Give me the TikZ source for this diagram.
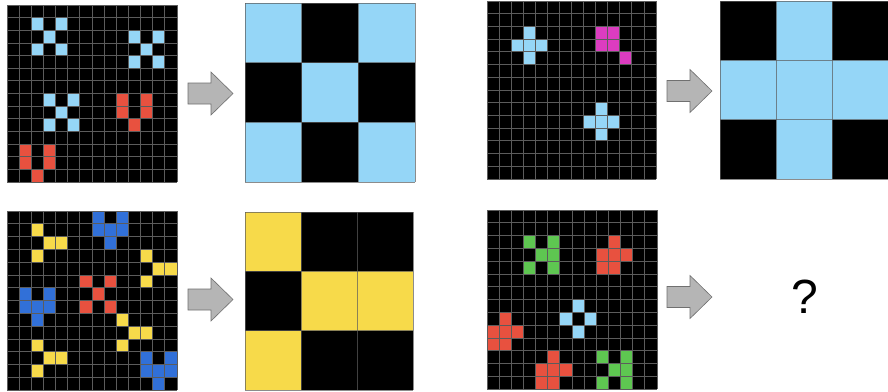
\documentclass[tikz,border=0pt]{standalone}
\usepackage{fontspec}
\setmainfont{Liberation Sans}
\usetikzlibrary{positioning}
\definecolor{cellsky}{HTML}{95D6F7}
\definecolor{cellred}{HTML}{E8513F}
\definecolor{cellyel}{HTML}{F7DA4A}
\definecolor{cellblue}{HTML}{3170D8}
\definecolor{cellgrn}{HTML}{5EC651}
\definecolor{cellmag}{HTML}{DC3CC0}
\definecolor{gridcol}{HTML}{5C5C5C}
\definecolor{arrfill}{HTML}{B5B5B5}
\definecolor{arrdraw}{HTML}{707070}

\begin{document}
\begin{tikzpicture}[
  x=1pt,y=-1pt,
  gridln/.style={draw=gridcol,line width=0.7pt},
  outln/.style={draw=gridcol,line width=0.6pt,opacity=0.7},
  blockarr/.style={fill=arrfill,draw=arrdraw,line width=0.6pt,line join=miter},
]
\fill[white] (0,0) rectangle (888,391);
\useasboundingbox (0,0) rectangle (888,391);

%================================================================ TOP LEFT ===
\begin{scope}[shift={(7,5)},x=12.14pt,y=-12.64pt]
  \fill[black] (0,0) rectangle (14,14);
  \foreach \r/\c in {1/2,1/4,2/3,3/2,3/4, 2/10,2/12,3/11,4/10,4/12, 7/3,7/5,8/4,9/3,9/5}
    \fill[cellsky] (\c,\r) rectangle ++(1,1);
  \foreach \r/\c in {7/9,8/9,7/11,8/11,9/10, 11/1,12/1,11/3,12/3,13/2}
    \fill[cellred] (\c,\r) rectangle ++(1,1);
  \foreach \i in {0,...,14}{
    \draw[gridln] (\i,0) -- (\i,14);
    \draw[gridln] (0,\i) -- (14,\i);}
\end{scope}

\begin{scope}[shift={(245,3)},x=56.67pt,y=-59.67pt]
  \fill[black] (0,0) rectangle (3,3);
  \foreach \r/\c in {0/0,0/2,1/1,2/0,2/2}
    \fill[cellsky] (\c,\r) rectangle ++(1,1);
  \foreach \i in {0,...,3}{
    \draw[outln] (\i,0) -- (\i,3);
    \draw[outln] (0,\i) -- (3,\i);}
\end{scope}

%============================================================= BOTTOM LEFT ===
\begin{scope}[shift={(7,211)},x=12.14pt,y=-12.79pt]
  \fill[black] (0,0) rectangle (14,14);
  \foreach \r/\c in {0/7,0/9,1/7,1/8,1/9,2/8, 6/1,6/3,7/1,7/2,7/3,8/2,
                     11/11,11/13,12/11,12/12,12/13,13/12}
    \fill[cellblue] (\c,\r) rectangle ++(1,1);
  \foreach \r/\c in {1/2,2/3,2/4,3/2, 3/11,4/12,4/13,5/11, 8/9,9/10,9/11,10/9,
                     10/2,11/3,11/4,12/2}
    \fill[cellyel] (\c,\r) rectangle ++(1,1);
  \foreach \r/\c in {5/6,5/8,6/7,7/6,7/8}
    \fill[cellred] (\c,\r) rectangle ++(1,1);
  \foreach \i in {0,...,14}{
    \draw[gridln] (\i,0) -- (\i,14);
    \draw[gridln] (0,\i) -- (14,\i);}
\end{scope}

\begin{scope}[shift={(245,212)},x=56pt,y=-59.33pt]
  \fill[black] (0,0) rectangle (3,3);
  \foreach \r/\c in {0/0,1/1,1/2,2/0}
    \fill[cellyel] (\c,\r) rectangle ++(1,1);
  \foreach \i in {0,...,3}{
    \draw[outln] (\i,0) -- (\i,3);
    \draw[outln] (0,\i) -- (3,\i);}
\end{scope}

%=============================================================== TOP RIGHT ===
\begin{scope}[shift={(487,1)},x=12.07pt,y=-12.71pt]
  \fill[black] (0,0) rectangle (14,14);
  \foreach \r/\c in {2/3,3/2,3/3,3/4,4/3, 8/9,9/8,9/9,9/10,10/9}
    \fill[cellsky] (\c,\r) rectangle ++(1,1);
  \foreach \r/\c in {2/9,2/10,3/9,3/10,4/11}
    \fill[cellmag] (\c,\r) rectangle ++(1,1);
  \foreach \i in {0,...,14}{
    \draw[gridln] (\i,0) -- (\i,14);
    \draw[gridln] (0,\i) -- (14,\i);}
\end{scope}

\begin{scope}[shift={(720,1)},x=56pt,y=-59.33pt]
  \fill[black] (0,0) rectangle (3,3);
  \foreach \r/\c in {0/1,1/0,1/1,1/2,2/1}
    \fill[cellsky] (\c,\r) rectangle ++(1,1);
  \foreach \i in {0,...,3}{
    \draw[outln] (\i,0) -- (\i,3);
    \draw[outln] (0,\i) -- (3,\i);}
\end{scope}

%============================================================ BOTTOM RIGHT ===
\begin{scope}[shift={(487,210)},x=12.14pt,y=-12.79pt]
  \fill[black] (0,0) rectangle (14,14);
  \foreach \r/\c in {2/3,2/5,3/4,3/5,4/3,4/5, 11/9,11/11,12/10,12/11,13/9,13/11}
    \fill[cellgrn] (\c,\r) rectangle ++(1,1);
  \foreach \r/\c in {2/10,3/9,3/10,3/11,4/9,4/10, 8/1,9/0,9/1,9/2,10/0,10/1,
                     11/5,12/4,12/5,12/6,13/4,13/5}
    \fill[cellred] (\c,\r) rectangle ++(1,1);
  \foreach \r/\c in {7/7,8/6,8/8,9/7}
    \fill[cellsky] (\c,\r) rectangle ++(1,1);
  \foreach \i in {0,...,14}{
    \draw[gridln] (\i,0) -- (\i,14);
    \draw[gridln] (0,\i) -- (14,\i);}
\end{scope}

\node[font=\fontsize{48}{48}\selectfont,inner sep=0pt] (qmark) at (805,297) {?};

%================================================================== ARROWS ===
\foreach \ax/\ay in {188/93.5,188/299.5,667/91,667/297}
  \draw[blockarr] (\ax,\ay-10.5) -- ++(23,0) -- ++(0,-11) -- ++(22,21.5)
    -- ++(-22,21.5) -- ++(0,-11) -- ++(-23,0) -- cycle;

\end{tikzpicture}
\end{document}
